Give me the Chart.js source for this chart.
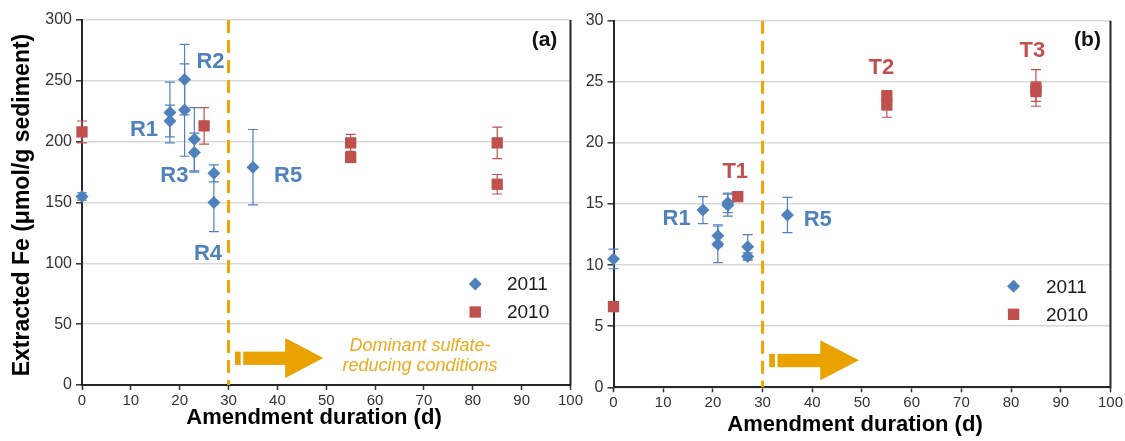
<!DOCTYPE html>
<html><head><meta charset="utf-8">
<script src="https://cdn.jsdelivr.net/npm/chart.js@4.4.1/dist/chart.umd.min.js"></script>
<style>
html,body{margin:0;padding:0;background:#fff;}
#wrap{position:relative;width:1125px;height:441px;overflow:hidden;background:#fff;}
#ca{position:absolute;left:0;top:0;}
#cb{position:absolute;left:585px;top:0;}
</style></head><body>
<div id="wrap"><canvas id="ca" width="585" height="441"></canvas><canvas id="cb" width="540" height="441"></canvas></div>
<script>
// ---------- DATA ----------
const seriesNames = ['2011', '2010'];
const xTicks = [0, 10, 20, 30, 40, 50, 60, 70, 80, 90, 100];
const yTicksA = [0, 50, 100, 150, 200, 250, 300];
const yTicksB = [0, 5, 10, 15, 20, 25, 30];

// panel (a): extracted Fe, umol/g sediment
const daysA2011 = [0, 18, 18, 21, 21, 23, 23, 27, 27, 35];
const feA2011   = [155, 224, 217, 251, 226, 202, 191, 174, 150, 179];
const errA2011  = [3, 25, 13, 29, 38, 26, 16, 7, 24, 31];
const daysA2010 = [0, 25, 55, 55, 85, 85];
const feA2010   = [208, 213, 199, 187, 199, 165];
const errA2010  = [9, 15, 7, 4, 13, 8];

// panel (b)
const daysB2011 = [0, 18, 21, 21, 23, 23, 27, 27, 35];
const feB2011   = [10.5, 14.5, 12.4, 11.7, 15.1, 14.9, 11.5, 10.7, 14.1];
const errB2011  = [0.8, 1.1, 0.9, 1.5, 0.8, 0.9, 1.0, 0.3, 1.45];
const daysB2010 = [0, 25, 55, 55, 85, 85];
const feB2010   = [6.6, 15.6, 23.85, 23.1, 24.5, 24.2];
const errB2010  = [0, 0, 0.4, 1.0, 1.5, 0.8];

const onsetDay = 30;
const groupLabelsA = ['R1', 'R2', 'R3', 'R4', 'R5'];
const groupLabelsB = ['R1', 'R5', 'T1', 'T2', 'T3'];
const xTitle = 'Amendment duration (d)';
const yTitleA = 'Extracted Fe (μmol/g sediment)';
const noteLines = ['Dominant sulfate-', 'reducing conditions'];

// ---------- STYLE / LAYOUT ----------
const FONT = "'Liberation Sans', Arial, sans-serif";
const BLUE = '#4F81BD', RED = '#C0504D', ORANGE = '#F0A500', NOTE = '#EFAA1C';
const labelPosA = [[12.7, 209.6], [26.3, 265.5], [18.9, 171.8], [25.8, 107.7], [42.2, 171.8]];
const labelColA = [BLUE, BLUE, BLUE, BLUE, BLUE];
const labelPosB = [[12.7, 13.8], [41.1, 13.7], [24.5, 17.6], [53.9, 26.1], [84.3, 27.5]];
const labelColB = [BLUE, BLUE, RED, RED, RED];

Chart.defaults.font.family = FONT;

function drawDiamond(ctx, x, y, r, color) {
  ctx.fillStyle = color;
  ctx.beginPath();
  ctx.moveTo(x - r, y); ctx.lineTo(x, y - r); ctx.lineTo(x + r, y); ctx.lineTo(x, y + r);
  ctx.closePath(); ctx.fill();
}

function makeChart(id, cfg) {
  const series = [
    {name: seriesNames[0], x: cfg.d11, y: cfg.v11, err: cfg.e11, color: BLUE, style: 'rectRot', r: 6.5},
    {name: seriesNames[1], x: cfg.d10, y: cfg.v10, err: cfg.e10, color: RED, style: 'rect', r: 8}
  ];
  const deco = {
    id: 'deco_' + id,
    beforeDatasetsDraw(chart) {
      const {ctx, chartArea: a, scales: {x, y}} = chart;
      ctx.save();
      // dashed onset line
      const x30 = x.getPixelForValue(onsetDay);
      ctx.strokeStyle = ORANGE; ctx.lineWidth = 3; ctx.setLineDash([13, 7]);
      ctx.beginPath(); ctx.moveTo(x30, a.top); ctx.lineTo(x30, a.bottom); ctx.stroke();
      ctx.setLineDash([]);
      // arrow
      const ppu = (x.getPixelForValue(100) - x.getPixelForValue(0)) / 100;
      const yb = a.bottom + cfg.arrowDy;
      ctx.fillStyle = '#E9A200';
      ctx.fillRect(x30 + 1.33 * ppu, yb - 33.4, 1.15 * ppu, 13.3);
      ctx.fillRect(x30 + 3.0 * ppu, yb - 33.4, 9.0 * ppu, 13.3);
      ctx.beginPath();
      ctx.moveTo(x30 + 11.6 * ppu, yb - 47);
      ctx.lineTo(x30 + 19.4 * ppu, yb - 27);
      ctx.lineTo(x30 + 11.6 * ppu, yb - 7);
      ctx.closePath(); ctx.fill();
      // error bars
      ctx.lineWidth = 1.2;
      series.forEach(s => {
        ctx.strokeStyle = s.color;
        s.x.forEach((dx, i) => {
          const e = s.err[i];
          if (!e) return;
          const px = x.getPixelForValue(dx);
          const p1 = y.getPixelForValue(s.y[i] + e), p2 = y.getPixelForValue(s.y[i] - e);
          ctx.beginPath();
          ctx.moveTo(px, p1); ctx.lineTo(px, p2);
          ctx.moveTo(px - 5, p1); ctx.lineTo(px + 5, p1);
          ctx.moveTo(px - 5, p2); ctx.lineTo(px + 5, p2);
          ctx.stroke();
        });
      });
      ctx.restore();
    },
    afterDatasetsDraw(chart) {
      const {ctx, chartArea: a, scales: {x, y}} = chart;
      ctx.save();
      // right frame
      ctx.strokeStyle = '#262626'; ctx.lineWidth = 2;
      ctx.beginPath(); ctx.moveTo(a.right, a.top); ctx.lineTo(a.right, a.bottom + 1); ctx.stroke();
      // group labels
      ctx.font = 'bold 22px ' + FONT; ctx.textAlign = 'center'; ctx.textBaseline = 'middle';
      cfg.labels.forEach((t, i) => {
        ctx.fillStyle = cfg.labelCol[i];
        ctx.fillText(t, x.getPixelForValue(cfg.labelPos[i][0]), y.getPixelForValue(cfg.labelPos[i][1]));
      });
      // panel tag
      ctx.fillStyle = '#111'; ctx.font = 'bold 21px ' + FONT;
      ctx.fillText(cfg.tag, a.right + cfg.tagDx, a.top + 20);
      // legend
      const lx = x.getPixelForValue(80.5), tx = x.getPixelForValue(87);
      const ly1 = a.bottom - 101, ly2 = a.bottom - 73;
      drawDiamond(ctx, lx, ly1, 6.5, BLUE);
      ctx.fillStyle = RED; ctx.fillRect(lx - 5.7, ly2 - 5.7, 11.4, 11.4);
      ctx.fillStyle = '#1a1a1a'; ctx.font = '19px ' + FONT; ctx.textAlign = 'left';
      ctx.fillText(seriesNames[0], tx, ly1 + 1);
      ctx.fillText(seriesNames[1], tx, ly2 + 1);
      // note text
      if (cfg.note) {
        ctx.fillStyle = NOTE; ctx.font = 'italic 18px ' + FONT; ctx.textAlign = 'center';
        const nx = x.getPixelForValue(69.2);
        ctx.fillText(noteLines[0], nx, a.bottom - 39);
        ctx.fillText(noteLines[1], nx, a.bottom - 19);
      }
      ctx.restore();
    },
    afterDraw(chart) {
      const {ctx} = chart;
      ctx.save();
      ctx.fillStyle = '#000'; ctx.font = 'bold 22px ' + FONT;
      ctx.textAlign = 'center'; ctx.textBaseline = 'middle';
      ctx.fillText(xTitle, cfg.xTitlePos[0], cfg.xTitlePos[1]);
      if (cfg.yTitle) {
        ctx.translate(cfg.yTitlePos[0], cfg.yTitlePos[1]);
        ctx.rotate(-Math.PI / 2);
        ctx.font = 'bold 23px ' + FONT;
        ctx.fillText(cfg.yTitle, 0, 0);
      }
      ctx.restore();
    }
  };
  return new Chart(document.getElementById(id), {
    type: 'scatter',
    data: {
      datasets: series.map(s => ({
        label: s.name,
        data: s.x.map((dx, i) => ({x: dx, y: s.y[i]})),
        pointStyle: s.style, pointRadius: s.r, pointHoverRadius: s.r,
        backgroundColor: s.color, borderColor: s.color, borderWidth: 0,
        clip: false
      }))
    },
    options: {
      responsive: false, animation: false, devicePixelRatio: 1,
      layout: {padding: {top: cfg.padTop, right: cfg.padRight, left: 0, bottom: 0}},
      plugins: {legend: {display: false}, tooltip: {enabled: false}},
      scales: {
        x: {
          type: 'linear', min: 0, max: 100,
          afterBuildTicks: s => { s.ticks = xTicks.map(v => ({value: v})); },
          afterFit: s => { s.height = cfg.xHeight; },
          ticks: {font: {size: 15}, color: '#333', padding: 2, maxRotation: 0, autoSkip: false},
          grid: {drawOnChartArea: false, drawTicks: true, tickLength: 5, tickColor: '#333', tickWidth: 1.5},
          border: {color: '#262626', width: 2}
        },
        y: {
          type: 'linear', min: cfg.yTicks[0], max: cfg.yTicks[cfg.yTicks.length - 1],
          afterBuildTicks: s => { s.ticks = cfg.yTicks.map(v => ({value: v})); },
          afterFit: s => { s.width = cfg.yWidth; },
          ticks: {font: {size: 16}, color: '#333', padding: 4},
          grid: {color: '#d9d9d9', lineWidth: 1.6, drawTicks: true, tickLength: 6, tickColor: '#333', tickWidth: 1.5},
          border: {color: '#262626', width: 2}
        }
      }
    },
    plugins: [deco]
  });
}

makeChart('ca', {
  d11: daysA2011, v11: feA2011, e11: errA2011,
  d10: daysA2010, v10: feA2010, e10: errA2010,
  yTicks: yTicksA, padTop: 20, padRight: 14, xHeight: 56, yWidth: 82,
  labels: groupLabelsA, labelPos: labelPosA, labelCol: labelColA,
  tag: '(a)', tagDx: -26, note: true, arrowDy: 0,
  xTitlePos: [314, 418], yTitle: yTitleA, yTitlePos: [23, 205]
});
makeChart('cb', {
  d11: daysB2011, v11: feB2011, e11: errB2011,
  d10: daysB2010, v10: feB2010, e10: errB2010,
  yTicks: yTicksB, padTop: 20.7, padRight: 12, xHeight: 53.7, yWidth: 28.5,
  labels: groupLabelsB, labelPos: labelPosB, labelCol: labelColB,
  tag: '(b)', tagDx: -23, note: false, arrowDy: 0,
  xTitlePos: [270, 425], yTitle: null, yTitlePos: null
});
</script>
</body></html>
